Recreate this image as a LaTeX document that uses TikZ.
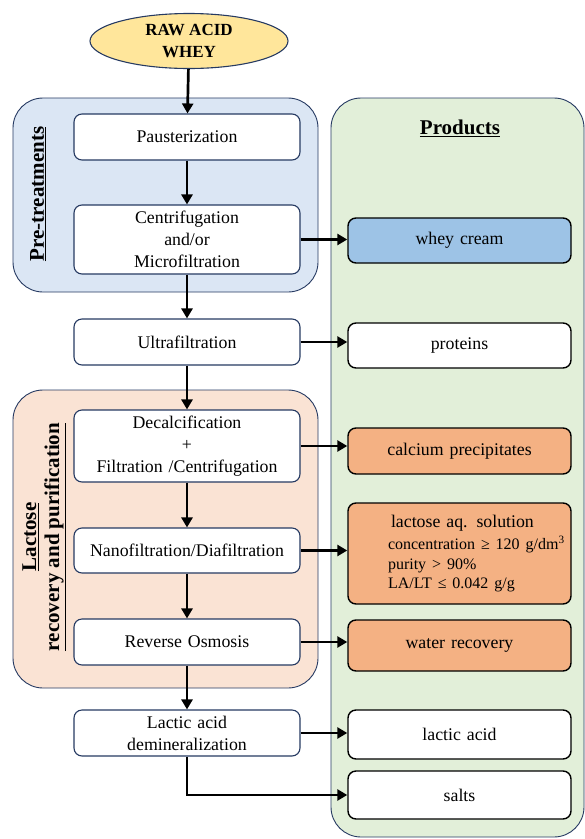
\documentclass[tikz,border=0pt]{standalone}
\usepackage{fontspec}
\setmainfont{Liberation Serif}
\usetikzlibrary{shapes.geometric,arrows.meta}
\definecolor{rawfill}{RGB}{255,230,155}
\definecolor{pretfill}{RGB}{219,230,244}
\definecolor{lactfill}{RGB}{250,227,212}
\definecolor{prodfill}{RGB}{226,239,217}
\definecolor{creamfill}{RGB}{157,195,230}
\definecolor{orangefill}{RGB}{244,177,131}
\definecolor{navyline}{RGB}{38,58,98}
\tikzset{
  stage/.style={rectangle,rounded corners=8pt,draw=navyline,line width=1.1pt,fill=white,
    minimum width=226pt,text width=220pt,align=center,inner sep=0pt,
    font=\fontsize{17.8}{22}\selectfont},
  product/.style={rectangle,rounded corners=8pt,draw=black,line width=1.4pt,fill=white,
    minimum width=223pt,text width=215pt,align=center,inner sep=0pt,
    font=\fontsize{17.8}{22}\selectfont},
  group/.style={rounded corners=30pt,draw=navyline,line width=0.9pt},
  flow/.style={-{Triangle[length=10pt,width=11pt]},line width=2.7pt},
  grouplabel/.style={font=\bfseries\fontsize{21}{23}\selectfont,align=center}
}
\begin{document}
\begin{tikzpicture}[x=1pt,y=-1pt]
\useasboundingbox (0,0) rectangle (585,839);
% group backgrounds
\draw[group,fill=pretfill] (13,98) rectangle (318,292);
\draw[group,fill=lactfill] (13,390) rectangle (318,688);
\draw[group,fill=prodfill] (331,98) rectangle (584,837);
\node[grouplabel] (prodtitle) at (460,128) {\underline{Products}};
\node[grouplabel,rotate=90] (pretitle) at (38,194) {\underline{Pre-treatments}};
\node[grouplabel,rotate=90] (lacttitle) at (44,537) {\underline{Lactose}\\\underline{recovery and purification}};
% feed
\node[ellipse,draw=navyline,line width=1.1pt,fill=rawfill,minimum width=198pt,minimum height=55pt,
  inner sep=0pt,align=center,font=\bfseries\fontsize{17}{22}\selectfont] (raw) at (189,41) {RAW ACID\\WHEY};
% process steps
\node[stage,minimum height=46pt] (pasteur) at (187,137) {Pausterization};
\node[stage,minimum height=69pt] (centrif) at (187,239.5) {Centrifugation\\and/or\\Microfiltration};
\node[stage,minimum height=46pt] (ultra) at (187,342) {Ultrafiltration};
\node[stage,minimum height=72pt] (decalc) at (187,446) {Decalcification\\+\\Filtration /Centrifugation};
\node[stage,minimum height=45pt] (nano) at (187,550.5) {Nanofiltration/Diafiltration};
\node[stage,minimum height=46pt] (revosm) at (187,642) {Reverse Osmosis};
\node[stage,minimum height=46pt] (demin) at (187,733) {Lactic acid\\demineralization};
% products
\node[product,fill=creamfill,minimum height=45pt] (cream) at (459.5,240.5) {whey cream};
\node[product,fill=orangefill,minimum height=101pt,align=left] (lactose) at (459.5,553.5)
  {\leftskip=36pt\relax\hspace*{3pt}lactose aq. solution\\[3pt]
   {\fontsize{16}{19.3}\selectfont concentration ≥ 120 g/dm\textsuperscript{3}\\
   purity > 90\%\\
   LA/LT ≤ 0.042 g/g\par}};
\node[product,minimum height=45pt] (proteins) at (459.5,345.5) {proteins};
\node[product,fill=orangefill,minimum height=46pt] (calcium) at (459.5,451) {calcium precipitates};
\node[product,fill=orangefill,minimum height=51pt] (water) at (459.5,645.5) {water recovery};
\node[product,minimum height=49pt] (lacticacid) at (459.5,734.5) {lactic acid};
\node[product,minimum height=48pt] (salts) at (459.5,795) {salts};
% main line
\draw[flow] (raw) -- (pasteur);
\draw[flow] (pasteur) -- (centrif);
\draw[flow] (centrif) -- (ultra);
\draw[flow] (ultra) -- (decalc);
\draw[flow] (decalc) -- (nano);
\draw[flow] (nano) -- (revosm);
\draw[flow] (revosm) -- (demin);
% side streams
\foreach \from/\to in {centrif/cream,ultra/proteins,decalc/calcium,nano/lactose,revosm/water,demin/lacticacid}
  \draw[flow] (\from.east) -- (\from.east -| \to.west);
\draw[flow] (demin.south) |- (salts.west);
\end{tikzpicture}
\end{document}
